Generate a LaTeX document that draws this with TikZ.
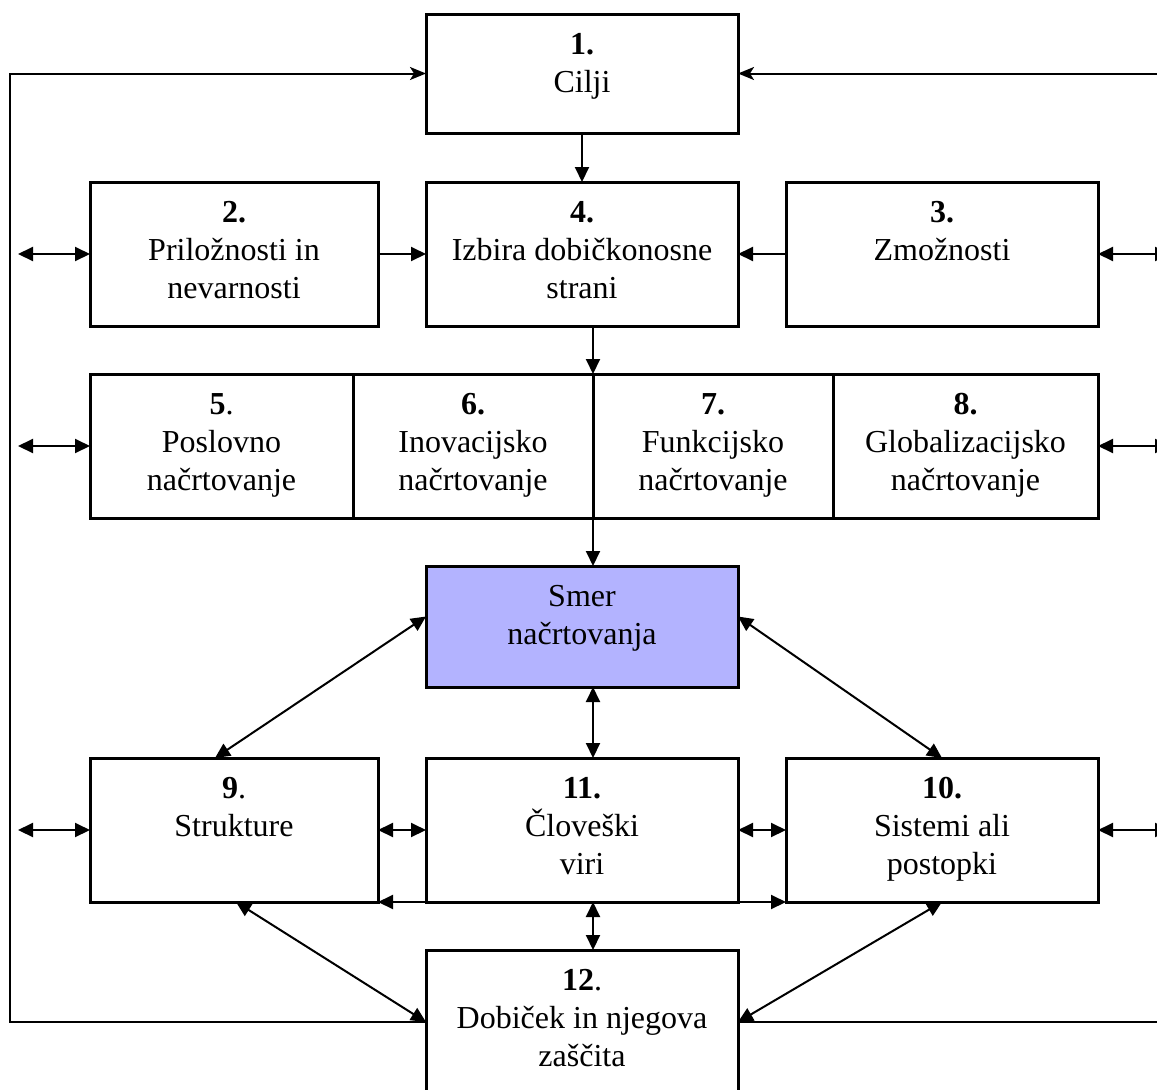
\documentclass[tikz,border=0pt]{standalone}
\usepackage{fontspec}
\setmainfont{Liberation Serif}
\usetikzlibrary{arrows.meta,calc}
\definecolor{smerfill}{RGB}{179,179,255}
\begin{document}
\begin{tikzpicture}[x=1pt,y=-1pt,
  box/.style={draw,line width=3pt,minimum height=144pt,inner sep=0pt,outer sep=0pt},
  txt/.style={anchor=north,align=center,inner sep=0pt,font=\fontsize{32}{38}\selectfont},
  conn/.style={line width=2pt},
  dbl/.style={conn,{Triangle[length=15pt,width=14pt]}-{Triangle[length=15pt,width=14pt]}},
  one/.style={conn,-{Triangle[length=15pt,width=14pt]}},
  loop/.style={conn,-{Stealth[length=16pt,width=13pt,inset=4pt]}}]
\clip (0,0) rectangle (1157,1090);
\fill[white] (0,0) rectangle (1157,1090);

% boxes
\node[box,minimum width=312pt,minimum height=119pt] (n1) at (582,73.5) {};
\node[box,minimum width=288pt] (n2) at (234,254) {};
\node[box,minimum width=312pt] (n4) at (582,254) {};
\node[box,minimum width=312pt] (n3) at (942,254) {};
\node[box,minimum width=263pt] (n5) at (221.5,446) {};
\node[box,minimum width=240pt] (n6) at (473,446) {};
\node[box,minimum width=240pt] (n7) at (713,446) {};
\node[box,minimum width=265pt] (n8) at (965.5,446) {};
\node[box,minimum width=312pt,minimum height=121pt,fill=smerfill] (sm) at (582,626.5) {};
\node[box,minimum width=288pt] (n9) at (234,830) {};
\node[box,minimum width=312pt] (n11) at (582,830) {};
\node[box,minimum width=312pt] (n10) at (942,830) {};
\node[box,minimum width=312pt] (n12) at (582,1022) {};

% texts
\node[txt] (t1) at ($(n1.north)+(0,19)$) {\textbf{1.}\\Cilji};
\node[txt] (t2) at ($(n2.north)+(0,19)$) {\textbf{2.}\\Priložnosti in\\nevarnosti};
\node[txt] (t4) at ($(n4.north)+(0,19)$) {\textbf{4.}\\Izbira dobičkonosne\\strani};
\node[txt] (t3) at ($(n3.north)+(0,19)$) {\textbf{3.}\\Zmožnosti};
\node[txt] (t5) at ($(n5.north)+(0,19)$) {\textbf{5}.\\Poslovno\\načrtovanje};
\node[txt] (t6) at ($(n6.north)+(0,19)$) {\textbf{6.}\\Inovacijsko\\načrtovanje};
\node[txt] (t7) at ($(n7.north)+(0,19)$) {\textbf{7.}\\Funkcijsko\\načrtovanje};
\node[txt] (t8) at ($(n8.north)+(0,19)$) {\textbf{8.}\\Globalizacijsko\\načrtovanje};
\node[txt] (tsm) at ($(sm.north)+(0,19)$) {Smer\\načrtovanja};
\node[txt] (t9) at ($(n9.north)+(0,19)$) {\textbf{9}.\\Strukture};
\node[txt] (t11) at ($(n11.north)+(0,19)$) {\textbf{11.}\\Človeški\\viri};
\node[txt] (t10) at ($(n10.north)+(0,19)$) {\textbf{10.}\\Sistemi ali\\postopki};
\node[txt] (t12) at ($(n12.north)+(0,19)$) {\textbf{12}.\\Dobiček in njegova\\zaščita};

% free ends of the side connectors and the central column
\coordinate (lx) at (10,0);
\coordinate (ls) at (18,0);
\coordinate (rx) at (1178,0);
\coordinate (rs) at (1170,0);
\coordinate (cx) at (593,0);

% top part
\draw[one] (n1.south) -- (n4.north);
\draw[one] (n2.east) -- (n4.west);
\draw[one] (n3.west) -- (n4.east);
\draw[one] (n4.south -| cx) -- (n7.north west);
\draw[one] (n7.south west) -- (sm.north -| cx);

% side links
\draw[dbl] (n2.west -| ls) -- (n2.west);
\draw[dbl] (n5.west -| ls) -- (n5.west);
\draw[dbl] (n9.west -| ls) -- (n9.west);
\draw[dbl] (n3.east) -- (n3.east -| rs);
\draw[dbl] (n8.east) -- (n8.east -| rs);
\draw[dbl] (n10.east) -- (n10.east -| rs);

% feedback loops
\draw[loop] (n12.west) -- (n12.west -| lx) -- (n1.west -| lx) -- (n1.west);
\draw[loop] (n12.east) -- (n12.east -| rx) -- (n1.east -| rx) -- (n1.east);

% lower part
\draw[dbl] ($(sm.west)+(0,-10)$) -- ($(n9.north)+(-19,0)$);
\draw[dbl] ($(sm.east)+(0,-10)$) -- (n10.north);
\draw[dbl] (sm.south -| cx) -- (n11.north -| cx);
\draw[dbl] (n11.south -| cx) -- (n12.north -| cx);
\draw[dbl] (n9.east) -- (n11.west);
\draw[dbl] (n11.east) -- (n10.west);
\draw[dbl] (n9.south east) -- (n10.south west);
\draw[dbl] ($(n9.south)+(2,0)$) -- (n12.west);
\draw[dbl] (n10.south) -- (n12.east);
\end{tikzpicture}
\end{document}
